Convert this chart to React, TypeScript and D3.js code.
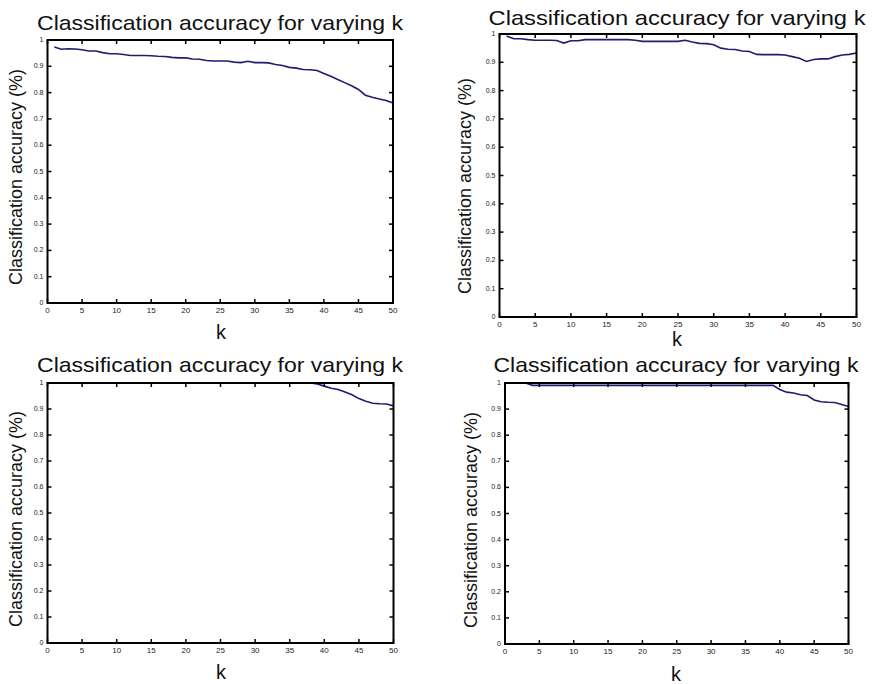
import React from "react";
import * as d3 from "d3";

const kValues: number[] = Array.from({ length: 50 }, (_, i) => i + 1);

const accuracyA: number[] = [
  0.973, 0.965, 0.967, 0.966, 0.963, 0.958, 0.958, 0.952, 0.948, 0.948,
  0.945, 0.941, 0.941, 0.941, 0.94, 0.938, 0.937, 0.934, 0.932, 0.932,
  0.928, 0.927, 0.922, 0.92, 0.92, 0.92, 0.916, 0.914, 0.919, 0.914,
  0.914, 0.913, 0.907, 0.903, 0.896, 0.893, 0.888, 0.887, 0.884, 0.873,
  0.862, 0.85, 0.838, 0.826, 0.812, 0.79, 0.782, 0.776, 0.77, 0.76,
];

const accuracyB: number[] = [
  0.993, 0.983, 0.983, 0.98, 0.978, 0.978, 0.978, 0.977, 0.968, 0.976,
  0.976, 0.98, 0.98, 0.98, 0.98, 0.98, 0.98, 0.98, 0.978, 0.974,
  0.974, 0.974, 0.974, 0.974, 0.974, 0.978, 0.972, 0.967, 0.966, 0.962,
  0.95, 0.946, 0.945, 0.94, 0.938, 0.928, 0.927, 0.927, 0.927, 0.926,
  0.92, 0.914, 0.903, 0.91, 0.912, 0.912, 0.92, 0.926, 0.928, 0.933,
];

const accuracyC: number[] = [
  1, 1, 1, 1, 1, 1, 1, 1, 1, 1,
  1, 1, 1, 1, 1, 1, 1, 1, 1, 1,
  1, 1, 1, 1, 1, 1, 1, 1, 1, 1,
  1, 1, 1, 1, 1, 1, 1, 1, 0.996, 0.988,
  0.98, 0.975, 0.965, 0.955, 0.94, 0.93, 0.922, 0.92, 0.919, 0.912,
];

const accuracyD: number[] = [
  1, 1, 1, 0.991, 0.991, 0.991, 0.991, 0.991, 0.991, 0.991,
  0.991, 0.991, 0.991, 0.991, 0.991, 0.991, 0.991, 0.991, 0.991, 0.991,
  0.991, 0.991, 0.991, 0.991, 0.991, 0.991, 0.991, 0.991, 0.991, 0.991,
  0.991, 0.991, 0.991, 0.991, 0.991, 0.991, 0.991, 0.991, 0.991, 0.975,
  0.965, 0.962, 0.955, 0.952, 0.935, 0.928, 0.926, 0.925, 0.918, 0.91,
];

const xTicks: number[] = [0, 5, 10, 15, 20, 25, 30, 35, 40, 45, 50];
const yTicks: number[] = [0, 0.1, 0.2, 0.3, 0.4, 0.5, 0.6, 0.7, 0.8, 0.9, 1];
const yTickLabels: string[] = ["0", "0.1", "0.2", "0.3", "0.4", "0.5", "0.6", "0.7", "0.8", "0.9", "1"];

const titleText = "Classification accuracy for varying k";
const yLabelText = "Classification accuracy (%)";
const xLabelText = "k";

const seriesList: number[][] = [accuracyA, accuracyB, accuracyC, accuracyD];

type Layout = {
  left: number; right: number; top: number; bottom: number;
  titleX: number; titleY: number; titleW: number;
  yLabX: number; yLabY: number;
  kX: number; kY: number;
};

const layouts: Layout[] = [
  { left: 47.5, right: 393, top: 40, bottom: 303, titleX: 220, titleY: 30, titleW: 366, yLabX: 22, yLabY: 177, kX: 221, kY: 339 },
  { left: 499.5, right: 856.5, top: 34, bottom: 317, titleX: 677, titleY: 25, titleW: 377, yLabX: 471, yLabY: 186, kX: 677, kY: 346 },
  { left: 47.5, right: 393.5, top: 383, bottom: 643, titleX: 220, titleY: 372, titleW: 366, yLabX: 22, yLabY: 519, kX: 221, kY: 679 },
  { left: 505, right: 848.5, top: 383, bottom: 644, titleX: 676, titleY: 372, titleW: 365, yLabX: 477, yLabY: 520, kX: 676, kY: 681 },
];

const FONT = "'Liberation Sans', Arial, sans-serif";
const LINE_COLOR = "#1d1d72";

function Panel({ data, L }: { data: number[]; L: Layout }) {
  const x = d3.scaleLinear().domain([0, 50]).range([L.left, L.right]);
  const y = d3.scaleLinear().domain([0, 1]).range([L.bottom, L.top]);
  const line = d3
    .line<number>()
    .x((_, i) => x(kValues[i]))
    .y((d) => y(d));
  const tl = 4;
  return (
    <g>
      <text x={L.titleX} y={L.titleY} fontFamily={FONT} fontSize={21} textAnchor="middle"
        textLength={L.titleW} lengthAdjust="spacingAndGlyphs" fill="#111">{titleText}</text>
      <text transform={`translate(${L.yLabX},${L.yLabY}) rotate(-90)`} fontFamily={FONT} fontSize={18}
        textAnchor="middle" textLength={216} lengthAdjust="spacingAndGlyphs" fill="#111">{yLabelText}</text>
      <text x={L.kX} y={L.kY} fontFamily={FONT} fontSize={20} textAnchor="middle" fill="#111">{xLabelText}</text>
      <path d={line(data) || ""} fill="none" stroke={LINE_COLOR} strokeWidth={1.6} />
      {xTicks.map((t) => (
        <g key={"x" + t}>
          <line x1={x(t)} x2={x(t)} y1={L.bottom} y2={L.bottom - tl} stroke="#000" strokeWidth={1.5} />
          <line x1={x(t)} x2={x(t)} y1={L.top} y2={L.top + tl} stroke="#000" strokeWidth={1.5} />
          <text x={x(t)} y={L.bottom + 10} fontFamily={FONT} fontSize={8} textAnchor="middle" fill="#222">{t}</text>
        </g>
      ))}
      {yTicks.map((t, i) => (
        <g key={"y" + t}>
          <line x1={L.left} x2={L.left + tl} y1={y(t)} y2={y(t)} stroke="#000" strokeWidth={1.5} />
          <line x1={L.right} x2={L.right - tl} y1={y(t)} y2={y(t)} stroke="#000" strokeWidth={1.5} />
          <text x={L.left - 4} y={y(t) + 2} fontFamily={FONT} fontSize={7} textAnchor="end" fill="#222">{yTickLabels[i]}</text>
        </g>
      ))}
      <rect x={L.left} y={L.top} width={L.right - L.left} height={L.bottom - L.top}
        fill="none" stroke="#000" strokeWidth={2} />
    </g>
  );
}

export default function App() {
  return (
    <svg width={872} height={684} style={{ position: "absolute", left: 0, top: 0, background: "#fff" }}>
      <rect width={872} height={684} fill="#fff" />
      {seriesList.map((s, i) => (
        <Panel key={i} data={s} L={layouts[i]} />
      ))}
    </svg>
  );
}
